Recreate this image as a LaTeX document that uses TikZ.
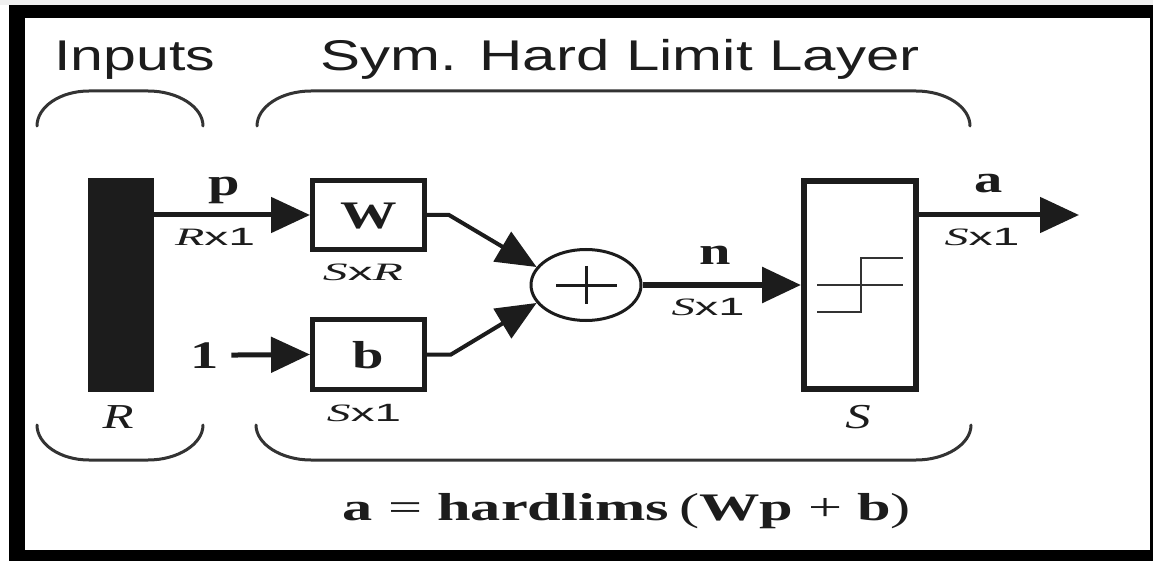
\documentclass[tikz,border=0pt]{standalone}
\usepackage{fontspec}
\setmainfont{Liberation Serif}
\setsansfont{Liberation Sans}
\usepackage{graphicx}
\usetikzlibrary{arrows.meta,shapes.geometric}

\definecolor{ink}{HTML}{1C1C1C}
\definecolor{wire}{HTML}{333333}

\newcommand{\wide}[1]{\scalebox{1.45}[1]{#1}}
\newcommand{\fitw}[2]{\resizebox{#1}{\height}{#2}}

\begin{document}
\begin{tikzpicture}[x=1pt, y=-1pt,
  head/.style={font=\sffamily\fontsize{43}{43}\selectfont, text=ink, inner sep=0pt, anchor=base},
  vec/.style={font=\bfseries\fontsize{39}{39}\selectfont, text=ink, inner sep=0pt, anchor=base},
  dimlab/.style={font=\fontsize{25}{25}\selectfont, text=ink, inner sep=0pt, anchor=base},
  blk/.style={draw=ink, line width=5pt, minimum width=112pt, inner sep=0pt},
  sig/.style={draw=ink, line width=5pt, -{Triangle[length=39pt 0 0,width=35pt 0 0]}},
  sigthin/.style={draw=ink, line width=4pt, -{Triangle[length=40pt 0 0,width=34pt 0 0]}},
  brace/.style={draw=wire, line width=3pt, line cap=round}]
\useasboundingbox (0,0) rectangle (1153,561);

% Frame
\fill[white] (0,0) rectangle (1153,561);
\fill[black!6] (0,0) rectangle (1153,5);
\fill[black] (9,5) rectangle (1153,561);
\fill[white] (25,18) rectangle (1150,550);

% Headings
\node[head] (inputs) at (135,71) {\fitw{161pt}{Inputs}};
\node[head] (layer) at (620,71) {\fitw{599pt}{Sym. Hard Limit Layer}};

% Braces (top and bottom)
\draw[brace] (37,126) .. controls (37,107) and (60,91) .. (89,91) -- (148,91) .. controls (178,91) and (203,107) .. (203,126);
\draw[brace] (257,126) .. controls (257,107) and (281,91) .. (311,91) -- (916,91) .. controls (946,91) and (970,107) .. (970,126);
\draw[brace] (37,425) .. controls (37,444) and (60,460) .. (89,460) -- (148,460) .. controls (178,460) and (203,444) .. (203,425);
\draw[brace] (256,425) .. controls (256,444) and (281,460) .. (311,460) -- (916,460) .. controls (946,460) and (971,444) .. (971,425);

% Input vector
\node[fill=ink, minimum width=66pt, minimum height=214pt, inner sep=0pt] (bar) at (121,285) {};
\node[dimlab, font=\fontsize{35}{35}\selectfont] (rlab) at (118,428) {\wide{\textit{R}}};

% Weight and bias
\node[blk, minimum height=69pt] (W) at (368.5,215) {};
\node[vec] (wlab) at (369,229) {\wide{W}};
\node[blk, minimum height=70pt] (b) at (368.5,354.5) {};
\node[vec] (blab) at (368,368) {\wide{b}};
\node[dimlab] (wdim) at (363,280) {\fitw{80pt}{\textit{S}\textsf{x}\textit{R}}};
\node[dimlab] (bdim) at (364,421) {\fitw{74pt}{\textit{S}\textsf{x1}}};

% Summer
\node[ellipse, draw=ink, line width=3pt, minimum width=110pt, minimum height=71pt, inner sep=0pt] (sum) at (586,285) {};
\draw[ink, line width=3pt] (556,285) -- (617,285);
\draw[ink, line width=3pt] (586,266) -- (586,304);

% Transfer function
\node[draw=ink, line width=6pt, minimum width=112pt, minimum height=208pt, inner sep=0pt] (hl) at (860,285) {};
\draw[wire, line width=2.5pt] (817,285) -- (903,285);
\draw[wire, line width=2.5pt] (817,312) -- (861,312) -- (861,258) -- (903,258);
\node[dimlab, font=\fontsize{35}{35}\selectfont] (slab) at (858,428) {\wide{\textit{S}}};

% Signals
\node[vec] (plab) at (224,196) {\wide{p}};
\node[dimlab] (pdim) at (215,246) {\fitw{80pt}{\textit{R}\textsf{x1}}};
\draw[sig] (bar.east |- W.west) -- (W.west);

\node[vec] (one) at (205,368) {\wide{1}};
\draw[sig, shorten <=12pt] (one.east) -- (b.west);

\draw[sigthin] (W.east) -- ++(22,0) -- (sum.160);
\draw[sigthin] (b.east) -- ++(24,0) -- (sum.200);

\node[vec] (nlab) at (715,265) {\wide{n}};
\node[dimlab] (ndim) at (708,316) {\fitw{73pt}{\textit{S}\textsf{x1}}};
\draw[sig, line width=6pt] (sum.east) -- (hl.west);

\coordinate (aout) at (1079,215);
\node[vec] (alab) at (989,193) {\wide{a}};
\node[dimlab] (adim) at (982,246) {\fitw{75pt}{\textit{S}\textsf{x1}}};
\draw[sig] (hl.east |- W.east) -- (aout);

% Layer equation
\node[vec, font=\mdseries\fontsize{39}{39}\selectfont] (eqn) at (627,520) {\fitw{568pt}{\textbf{a} = \textbf{hardlims}\,(\textbf{Wp} + \textbf{b})}};
\end{tikzpicture}
\end{document}
